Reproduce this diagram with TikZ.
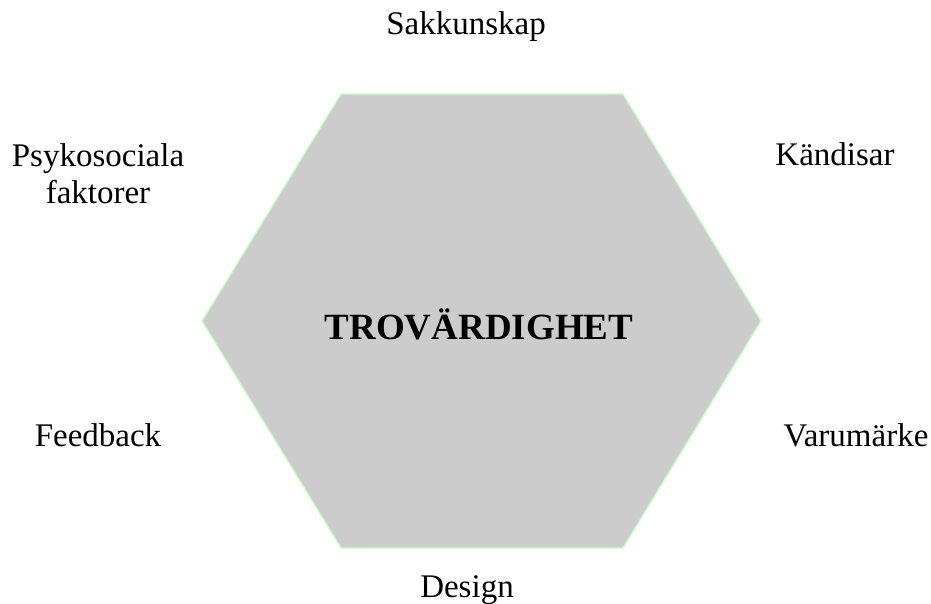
\documentclass[tikz,border=0pt]{standalone}
\usepackage{fontspec}
\setmainfont{Liberation Serif}
\definecolor{hexfill}{RGB}{204,204,204}
\definecolor{hexline}{RGB}{200,255,200}
\begin{document}
\begin{tikzpicture}[x=1pt,y=-1pt,
  lbl/.style={anchor=base,inner sep=0pt,font=\fontsize{33}{36}\selectfont,align=center},
  ttl/.style={anchor=base,inner sep=0pt,font=\fontsize{37}{40}\selectfont\bfseries}]
\useasboundingbox (0,0) rectangle (931,603);
\coordinate (tl) at (341,94);
\coordinate (tr) at (623,94);
\coordinate (r) at (761,321);
\coordinate (br) at (623,548);
\coordinate (bl) at (341,548);
\coordinate (l) at (202,321);
\fill[hexfill] (tl) -- (tr) -- (r) -- (br) -- (bl) -- (l) -- cycle;
\draw[hexline,line width=1.3pt,line join=miter] (tl) -- (tr) -- (r) -- (br) -- (bl) -- (l) -- cycle;
\node[ttl] (title) at (479,339) {TROVÄRDIGHET};
\node[lbl] (sak) at (466,34) {Sakkunskap};
\node[lbl] (psy) at (98,166) {Psykosociala};
\node[lbl] (fak) at (98,203) {faktorer};
\node[lbl] (kan) at (835,165) {Kändisar};
\node[lbl] (fee) at (98,446) {Feedback};
\node[lbl] (var) at (856,446) {Varumärke};
\node[lbl] (des) at (467,597) {Design};
\end{tikzpicture}
\end{document}
